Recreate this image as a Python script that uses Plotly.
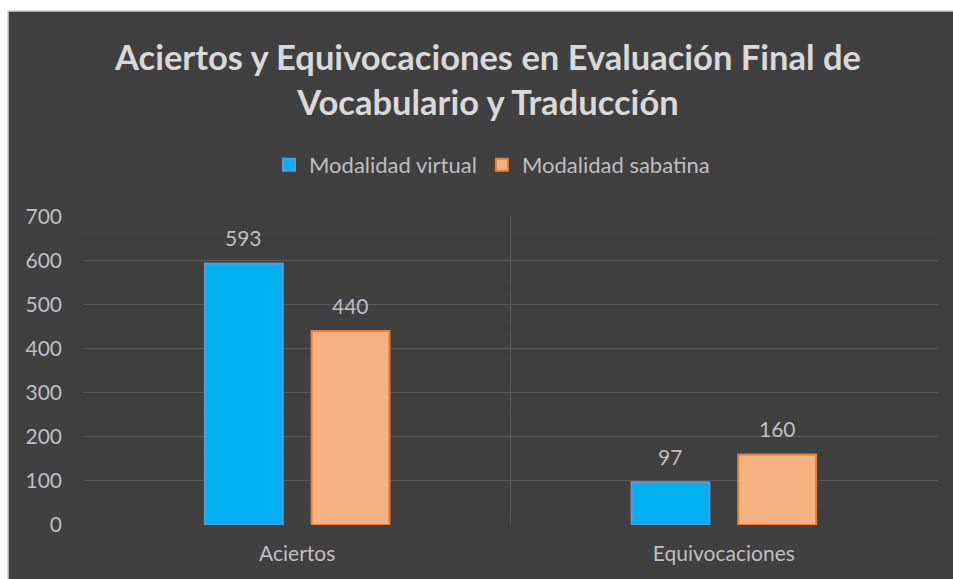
import plotly.graph_objects as go

categories = ["Aciertos", "Equivocaciones"]
virtual_vals = [593, 97]
sabatina_vals = [440, 160]
series_names = ["Modalidad virtual", "Modalidad sabatina"]
y_ticks = [0, 100, 200, 300, 400, 500, 600, 700]

BG = "#404040"
FONT = "Lato, Open Sans, sans-serif"
LABEL = "#BFBFBF"
W, H = 953, 579
ML, MR, MT, MB = 83, 15, 216, 54
BARGAP, GROUPGAP = 0.5, 0.27

pw = W - ML - MR
ph = H - MT - MB

fig = go.Figure()
fig.add_trace(go.Bar(
    name=series_names[0], x=categories, y=virtual_vals,
    marker=dict(color="#00B0F0", line=dict(color="#5B9BD5", width=2)),
))
fig.add_trace(go.Bar(
    name=series_names[1], x=categories, y=sabatina_vals,
    marker=dict(color="#F4B183", line=dict(color="#ED7D31", width=2)),
))

# data labels above bars
slot_px = (pw / len(categories)) * (1 - BARGAP) / 2
annotations = []
for k, vals in enumerate([virtual_vals, sabatina_vals]):
    shift = (k - 0.5) * slot_px
    for c, v in zip(categories, vals):
        annotations.append(dict(x=c, y=v, xref="x", yref="y", text=str(v),
                                showarrow=False, xshift=shift, yshift=26,
                                yanchor="middle",
                                font=dict(family=FONT, size=21, color=LABEL)))

shapes = []
shapes.append(dict(type="rect", xref="paper", yref="paper",
                   x0=(8 - ML) / pw, x1=1.2, y0=-0.5, y1=(ph + MT - 11) / ph,
                   fillcolor=BG, line=dict(color="#D0D0D0", width=1.5), layer="below"))
# fading of gridlines toward the bottom
n = 40
top = y_ticks[-1]
for i in range(n):
    y0 = top * i / n
    y1 = top * (i + 1) / n
    op = max(0.0, 1 - ((y0 + y1) / 2) / (top * 0.98))
    shapes.append(dict(type="rect", xref="paper", yref="y", x0=-0.003, x1=1.003,
                       y0=y0, y1=y1, fillcolor=BG, opacity=op,
                       line=dict(width=0), layer="between"))

fig.update_layout(
    width=W, height=H,
    paper_bgcolor="white", plot_bgcolor="rgba(0,0,0,0)",
    margin=dict(l=ML, r=MR, t=MT, b=MB),
    barmode="group", bargap=BARGAP, bargroupgap=GROUPGAP,
    title=dict(text="Aciertos y Equivocaciones en Evaluación Final de<br>Vocabulario y Traducción",
               x=488 / W, xanchor="center", y=1 - 70 / H, yanchor="middle",
               font=dict(family=FONT, size=34.5, color="#D9D9D9", weight="bold")),
    legend=dict(orientation="h", x=(492 - ML) / pw, xanchor="center", y=1.165, yanchor="middle",
                font=dict(family=FONT, size=22, color=LABEL), bgcolor="rgba(0,0,0,0)",
                itemwidth=30, traceorder="normal"),
    shapes=shapes,
    annotations=annotations,
    showlegend=True,
)
fig.update_xaxes(type="category", tickson="boundaries", showgrid=True,
                 range=[-0.502, 1.502],
                 gridcolor="#5A5A5A", gridwidth=1, showline=False, ticks="",
                 tickfont=dict(family=FONT, size=21, color=LABEL), zeroline=False,
                 ticklabelstandoff=14)
fig.update_yaxes(range=[0, 701], tickvals=y_ticks, showgrid=True, gridcolor="#5A5A5A",
                 gridwidth=1, zeroline=False, showline=False, ticks="",
                 tickfont=dict(family=FONT, size=21, color=LABEL), ticklabelstandoff=20)

fig.write_html("out.html", config={"displayModeBar": False},
               post_script="document.body.style.margin='0';document.body.style.overflow='hidden';")
